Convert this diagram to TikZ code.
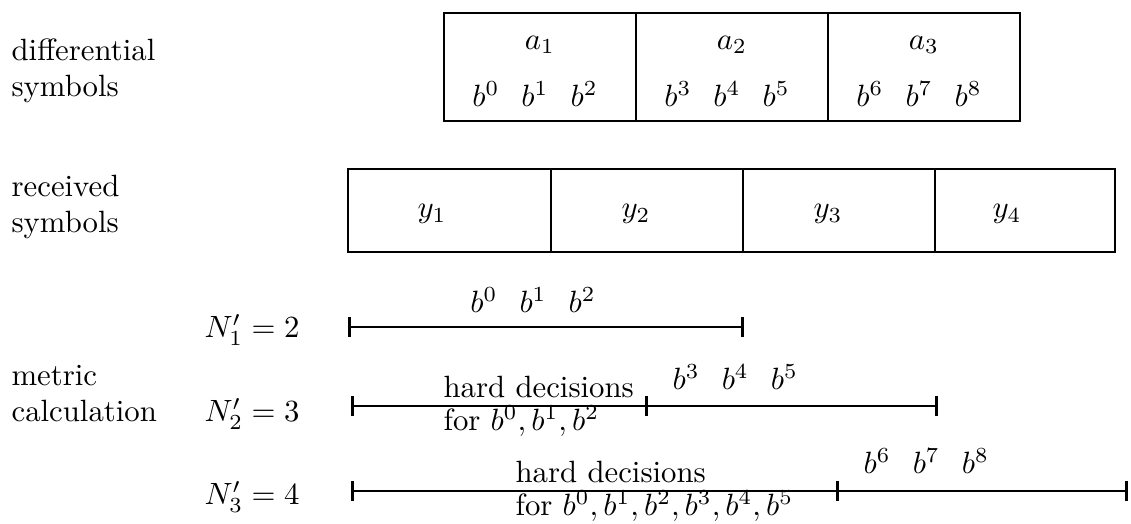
\documentclass[tikz,border=0pt]{standalone}
\usetikzlibrary{arrows.meta,positioning}

\newcommand{\bgap}{\hspace{0.72em}}

\begin{document}
\begin{tikzpicture}[x=0.325pt, y=-0.325pt,
    symbox/.style={draw, line width=0.85pt, inner sep=0pt, minimum height=35.1pt, minimum width=62.4pt},
    rxbox/.style={draw, line width=0.85pt, inner sep=0pt, minimum height=27pt},
    span/.style={line width=0.9pt, {Bar[width=6.5pt]}-{Bar[width=6.5pt]}},
    spanr/.style={line width=0.9pt, -{Bar[width=6.5pt]}},
    rowlabel/.style={anchor=base west, align=left, inner sep=0pt},
    lbl/.style={anchor=base, inner sep=0pt},
    lbll/.style={anchor=base west, inner sep=0pt}]
    \useasboundingbox (0,0) rectangle (1131,524);

    % Rotulos das linhas (base = ultima linha)
    \node[rowlabel] (difflab) at (11,97) {differential\\symbols};
    \node[rowlabel] (rxlab) at (11,233) {received\\symbols};
    \node[rowlabel] (metlab) at (11,422) {metric\\calculation};

    % Simbolos diferenciais
    \node[symbox] (a1box) at (540,67) {};
    \node[symbox] (a2box) at (732,67) {};
    \node[symbox] (a3box) at (924,67) {};
    \node (a1) at (540,45) {$a_1$};
    \node (a2) at (732,45) {$a_2$};
    \node (a3) at (924,45) {$a_3$};
    \node[lbl] (b012) at (535,107) {$b^0$\bgap$b^1$\bgap$b^2$};
    \node[lbl] (b345) at (727,107) {$b^3$\bgap$b^4$\bgap$b^5$};
    \node[lbl] (b678) at (919,107) {$b^6$\bgap$b^7$\bgap$b^8$};

    % Simbolos recebidos
    \node[rxbox, minimum width=66pt] (y1box) at (449.5,210.5) {};
    \node[rxbox, minimum width=62.4pt] (y2box) at (647,210.5) {};
    \node[rxbox, minimum width=62.4pt] (y3box) at (839,210.5) {};
    \node[rxbox, minimum width=58.5pt] (y4box) at (1025,210.5) {};
    \node (y1) at (432,214) {$y_1$};
    \node (y2) at (636,214) {$y_2$};
    \node (y3) at (828,214) {$y_3$};
    \node (y4) at (1007,214) {$y_4$};

    % Calculo das metricas
    \node[lbll] (n1) at (204,338) {$N_1' = 2$};
    \node[lbll] (n2) at (204,422) {$N_2' = 3$};
    \node[lbll] (n3) at (204,505) {$N_3' = 4$};

    \coordinate (s1l) at (348,327);
    \coordinate (s1r) at (744,327);
    \draw[span] (s1l) -- (s1r);
    \node[lbl] (m1b) at (533,313) {$b^0$\bgap$b^1$\bgap$b^2$};

    \coordinate (s2l) at (351,406);
    \coordinate (s2m) at (648,406);
    \coordinate (s2r) at (938,406);
    \draw[span] (s2l) -- (s2m);
    \draw[spanr] (s2m) -- (s2r);
    \node[lbll] (hd2) at (443,398) {hard decisions};
    \node[lbll] (for2) at (443,431) {for $b^0,b^1,b^2$};
    \node[lbll] (m2b) at (672,390) {$b^3$\bgap$b^4$\bgap$b^5$};

    \coordinate (s3l) at (351,491);
    \coordinate (s3m) at (839,491);
    \coordinate (s3r) at (1128,491);
    \draw[span] (s3l) -- (s3m);
    \draw[spanr] (s3m) -- (s3r);
    \node[lbll] (hd3) at (515,483) {hard decisions};
    \node[lbll] (for3) at (515,516) {for $b^0,b^1,b^2,b^3,b^4,b^5$};
    \node[lbll] (m3b) at (863,474) {$b^6$\bgap$b^7$\bgap$b^8$};
\end{tikzpicture}
\end{document}
